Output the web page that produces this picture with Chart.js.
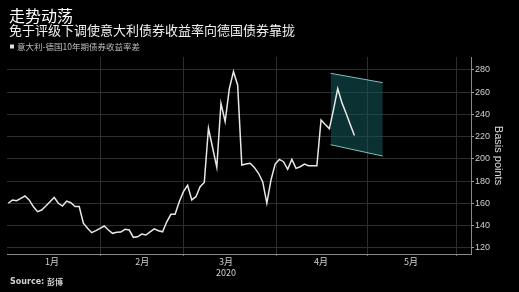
<!DOCTYPE html>
<html>
<head>
<meta charset="utf-8">
<script src="https://cdn.jsdelivr.net/npm/chart.js@4.4.1/dist/chart.umd.min.js"></script>
<style>
  html, body { margin: 0; padding: 0; background: #000; }
  canvas { display: block; }
</style>
</head>
<body>
<canvas id="spreadChart" width="519" height="292"></canvas>
<script>
// Italy-Germany 10y spread, one value per weekday from 1 Jan 2020
const spread = [
    160, 162.9, 162.3, 164.4, 166.5, 163, 157, 152.4, 153.9, 157.5,
    161.4, 165.3, 160, 157.5, 162, 160.5, 157, 157, 142, 137.4,
    133.5, 135.3, 137.4, 139.5, 135.9, 132.9, 133.8, 134.1, 136.5, 135.9,
    129.3, 129.8, 132.3, 131.4, 134.3, 137, 135.3, 134.3, 143.3, 150,
    150, 161.4, 170.4, 176.2, 163, 165.9, 175, 178.7, 227.5, 210,
    192.3, 250, 233.6, 263, 278.5, 266.5, 194.4, 195.3, 196, 192.3,
    187, 179.4, 160, 181, 195.3, 199.5, 197.4, 190.5, 199.5, 191.4,
    192.9, 195.3, 193.8, 193.8, 193.8, 235, 231, 227.2, 244.6, 263.2,
    250.6, 241, 231, 221
];

// projected band (x in weekday index)
const bandX = [77.3, 89.8];
const bandTop = [277, 268.6];
const bandBottom = [212.7, 202.5];

const monthEdges = [22.1, 42.1, 64.4, 86.2, 107.6];
const monthMids = [10.5, 32.1, 52.2, 75, 96.6];
const monthLabels = [['1月'], ['2月'], ['3月', '2020'], ['4月'], ['5月']];
const yTicks = [120, 140, 160, 180, 200, 220, 240, 260, 280];

const title = '走势动荡';
const subtitle = '免于评级下调使意大利债券收益率向德国债券靠拢';
const legendLabel = '意大利-德国10年期债券收益率差';
const sourceLabel = '彭博';

const gridColor = '#2e2e2e';
const cjkFont = '"Noto Sans CJK SC", "Noto Sans", sans-serif';

const headerText = {
    id: 'headerText',
    beforeDraw(chart) {
        const ctx = chart.ctx;
        ctx.save();
        ctx.fillStyle = '#000';
        ctx.fillRect(0, 0, chart.width, chart.height);
        ctx.restore();
    },
    afterDraw(chart) {
        const ctx = chart.ctx;
        ctx.save();
        ctx.textBaseline = 'middle';
        ctx.fillStyle = '#ffffff';
        ctx.font = '16px ' + cjkFont;
        ctx.fillText(title, 9, 15.5);
        ctx.font = '13px ' + cjkFont;
        ctx.fillStyle = '#f0f0f0';
        ctx.fillText(subtitle, 9, 30);
        ctx.fillStyle = '#e0e0e0';
        ctx.fillRect(10, 44.5, 4, 4);
        ctx.fillStyle = '#bdbdbd';
        ctx.font = '8.5px ' + cjkFont;
        ctx.fillText(legendLabel, 17, 46.5);
        ctx.fillStyle = '#d0d0d0';
        ctx.font = 'bold 8px "DejaVu Sans", sans-serif';
        ctx.fillText('Source:', 10, 282);
        const w = ctx.measureText('Source: ').width;
        ctx.font = 'bold 8px ' + cjkFont;
        ctx.fillText(sourceLabel, 10 + w, 282);
        ctx.restore();
    }
};

const points = spread.map((v, i) => ({ x: i, y: v }));

new Chart(document.getElementById('spreadChart').getContext('2d'), {
    type: 'line',
    data: {
        datasets: [
            {
                data: points,
                borderColor: '#e8e8e8',
                borderWidth: 1.5,
                pointRadius: 0,
                tension: 0,
                fill: false,
                order: 0
            },
            {
                data: bandX.map((x, i) => ({ x: x, y: bandTop[i] })),
                borderColor: '#7fbfbf',
                borderWidth: 1,
                pointRadius: 0,
                fill: false,
                order: 1
            },
            {
                data: bandX.map((x, i) => ({ x: x, y: bandBottom[i] })),
                borderColor: '#7fbfbf',
                borderWidth: 1,
                pointRadius: 0,
                backgroundColor: 'rgba(20, 90, 92, 0.55)',
                fill: '-1',
                order: 1
            }
        ]
    },
    options: {
        responsive: false,
        animation: false,
        layout: { padding: { top: 57, left: 7, right: 0, bottom: 0 } },
        plugins: {
            legend: { display: false },
            tooltip: { enabled: false }
        },
        scales: {
            x: {
                type: 'linear',
                min: -0.31,
                max: 110.96,
                afterBuildTicks: scale => {
                    scale.ticks = [...monthEdges, ...monthMids].sort((a, b) => a - b).map(v => ({ value: v }));
                },
                afterFit: scale => { scale.height = 38; },
                grid: {
                    color: c => (c.tick && monthEdges.includes(c.tick.value)) ? gridColor : 'rgba(0,0,0,0)',
                    tickColor: c => (c.tick && monthEdges.includes(c.tick.value)) ? '#666' : 'rgba(0,0,0,0)',
                    tickLength: 2
                },
                border: { display: true, color: '#8a8a8a', width: 1 },
                ticks: {
                    autoSkip: false,
                    maxRotation: 0,
                    padding: 0,
                    color: '#cfcfcf',
                    font: { size: 9, family: cjkFont },
                    callback: value => {
                        const i = monthMids.indexOf(value);
                        return i >= 0 ? monthLabels[i] : '';
                    }
                }
            },
            y: {
                position: 'right',
                min: 114.3,
                max: 291.7,
                afterBuildTicks: scale => {
                    scale.ticks = yTicks.map(v => ({ value: v }));
                },
                afterFit: scale => { scale.width = 48; },
                grid: { color: gridColor, tickColor: '#999', tickLength: 3 },
                border: { display: true, color: '#8a8a8a', width: 1 },
                ticks: {
                    padding: 1,
                    color: '#cfcfcf',
                    font: { size: 9, family: '"Liberation Sans", Arial, sans-serif' }
                },
                title: {
                    display: true,
                    text: 'Basis points',
                    color: '#dcdcdc',
                    padding: { top: 14, bottom: 0 },
                    font: { size: 11, family: '"Liberation Sans", Arial, sans-serif' }
                }
            }
        }
    },
    plugins: [headerText]
});
</script>
</body>
</html>
